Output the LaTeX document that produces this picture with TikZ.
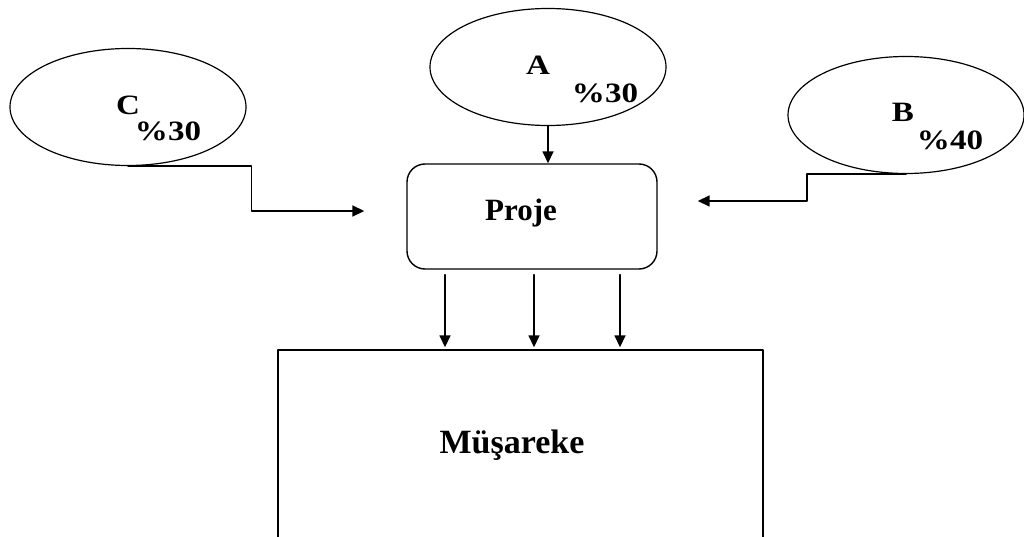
\documentclass[tikz,border=0pt]{standalone}
\usepackage{fontspec}
\setmainfont{Liberation Serif}
\usetikzlibrary{arrows.meta,shapes.geometric}
\newcommand{\MainColor}{black}

\begin{document}
\begin{tikzpicture}[line cap=round,line
  join=round,>={Triangle[length=12pt,width=11pt]},x=1pt,y=-1pt,
  partner/.style={draw=\MainColor,ellipse,line width=1.2pt,minimum
    width=236pt,minimum height=117pt,inner sep=0pt},
  share/.style={font=\fontsize{28}{30}\selectfont\bfseries,inner
    sep=0pt,xscale=1.18,transform shape},
  flow/.style={->,line width=1.6pt,color=\MainColor}]
  \useasboundingbox (0,0) rectangle (1024,537);
  \node[partner] (C) at (128,107) {};
  \node[partner] (A) at (548,67) {};
  \node[partner] (B) at (906,115) {};
  \node[share] (Cname) at (128,105) {C};
  \node[share] (Cpart) at (168,131) {\%30};
  \node[share] (Aname) at (538,65) {A};
  \node[share] (Apart) at (605,93) {\%30};
  \node[share] (Bname) at (903,112) {B};
  \node[share] (Bpart) at (950,140) {\%40};
  \node[draw=\MainColor,line width=1.4pt,rounded corners=18pt,minimum
  width=250pt,minimum height=105pt,font=\fontsize{31}{33}\selectfont\bfseries]
  (proje) at (532,216.5) {};
  \node[font=\fontsize{31}{33}\selectfont\bfseries] (projetext) at (521,213)
  {Proje};
  \node[draw=\MainColor,line width=1.4pt,minimum width=485pt,minimum
  height=192pt,inner sep=0pt] (mus) at (520.5,446) {};
  \node[font=\fontsize{34}{36}\selectfont\bfseries] (mustext) at (512,445)
  {Müşareke};
  \draw [flow] (A.south) -- (A.south |- proje.north);
  \draw [flow] (C.south) -| ([xshift=-155pt,yshift=5.5pt]proje.west) --
  ([xshift=-42pt,yshift=5.5pt]proje.west);
  \draw [flow] (B.south) -| ([xshift=149pt,yshift=15.5pt]proje.east) --
  ([xshift=40pt,yshift=15.5pt]proje.east);
  \foreach \dx in {-87,2,88}
  \draw [flow,shorten <=5pt,shorten >=2pt] ([xshift=\dx pt]proje.south) --
  ([xshift=\dx pt]proje.south |- mus.north);
\end{tikzpicture}
\end{document}
